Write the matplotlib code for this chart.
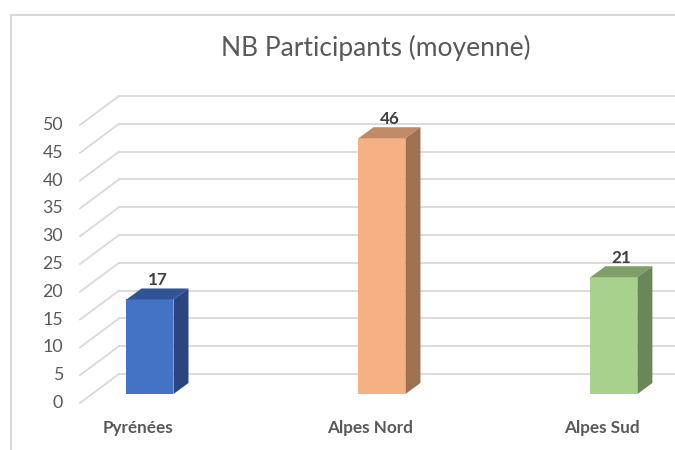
import numpy as np
import matplotlib.pyplot as plt
from matplotlib.patches import Polygon, Rectangle

categories = ['Pyrénées', 'Alpes Nord', 'Alpes Sud']
values = [17, 46, 21]
front_colors = ['#4472C4', '#F4B183', '#A9D18E']
top_colors = ['#2F5597', '#C18A66', '#7E9F68']
side_colors = ['#2A4580', '#9E7152', '#6A8857']
y_ticks = np.arange(0, 55, 5)

plt.rcParams['font.family'] = ['Lato', 'DejaVu Sans']

W, H = 675, 450
fig = plt.figure(figsize=(W / 100, H / 100), dpi=100)
ax_l, ax_b, ax_w, ax_h = 80, 47, 556, 278
ax = fig.add_axes([ax_l / W, ax_b / H, ax_w / W, ax_h / H])
xmin, xmax = -0.25, 2.147
ax.set_xlim(xmin, xmax)
ax.set_ylim(0, 50)
ax.axis('off')

# pixel offsets -> data units
ppx = ax_w / (xmax - xmin)
ppy = ax_h / 50.0
def off(px, py):
    return px / ppx, py / ppy

dx, dy = off(39, 29)       # full depth of the floor
fx, fy = off(12, 9)        # front face of the bars
sx, sy = off(15, 11)       # depth of the bars
bw = 47 / ppx

grid_c = '#D9D9D9'
for v in y_ticks:
    ax.plot([xmin, xmin + dx], [v, v + dy], color=grid_c, lw=1.3, clip_on=False, zorder=1)
    ax.plot([xmin + dx, xmax + 1], [v + dy, v + dy], color=grid_c, lw=1.3, clip_on=False, zorder=1)
    ax.text(xmin - off(17, 0)[0], v, str(v), ha='right', va='center',
            fontsize=12.8, color='#595959')

for i, (cat, v) in enumerate(zip(categories, values)):
    x0 = i - bw / 2 + fx
    x1 = i + bw / 2 + fx
    ax.add_patch(Rectangle((x0, fy), bw, v, facecolor=front_colors[i],
                           edgecolor='none', zorder=3, clip_on=False))
    ax.add_patch(Polygon([(x0, v + fy), (x1, v + fy), (x1 + sx, v + fy + sy), (x0 + sx, v + fy + sy)],
                         closed=True, facecolor=top_colors[i], edgecolor='none', zorder=3, clip_on=False))
    ax.add_patch(Polygon([(x1, fy), (x1 + sx, fy + sy), (x1 + sx, v + fy + sy), (x1, v + fy)],
                         closed=True, facecolor=side_colors[i], edgecolor='none', zorder=3, clip_on=False))
    ax.text(i + fx + sx / 2, v + fy + sy, str(v), ha='center', va='bottom',
            fontsize=12.3, fontweight='bold', color='#404040', zorder=4)
    ax.text(i, -off(0, 25)[1], cat, ha='center', va='center',
            fontsize=12.3, fontweight='bold', color='#595959')

fig.text(376 / W, 1 - 48 / H, 'NB Participants (moyenne)', ha='center', va='center',
         fontsize=19, color='#595959')

# chart frame (cropped on the right and bottom)
fig.patches.append(Rectangle((11 / W, -0.1), 1.2, 1.1 - 15 / H, transform=fig.transFigure,
                             fill=False, edgecolor='#D9D9D9', lw=1.5))

fig.savefig('out.png', dpi=100)
